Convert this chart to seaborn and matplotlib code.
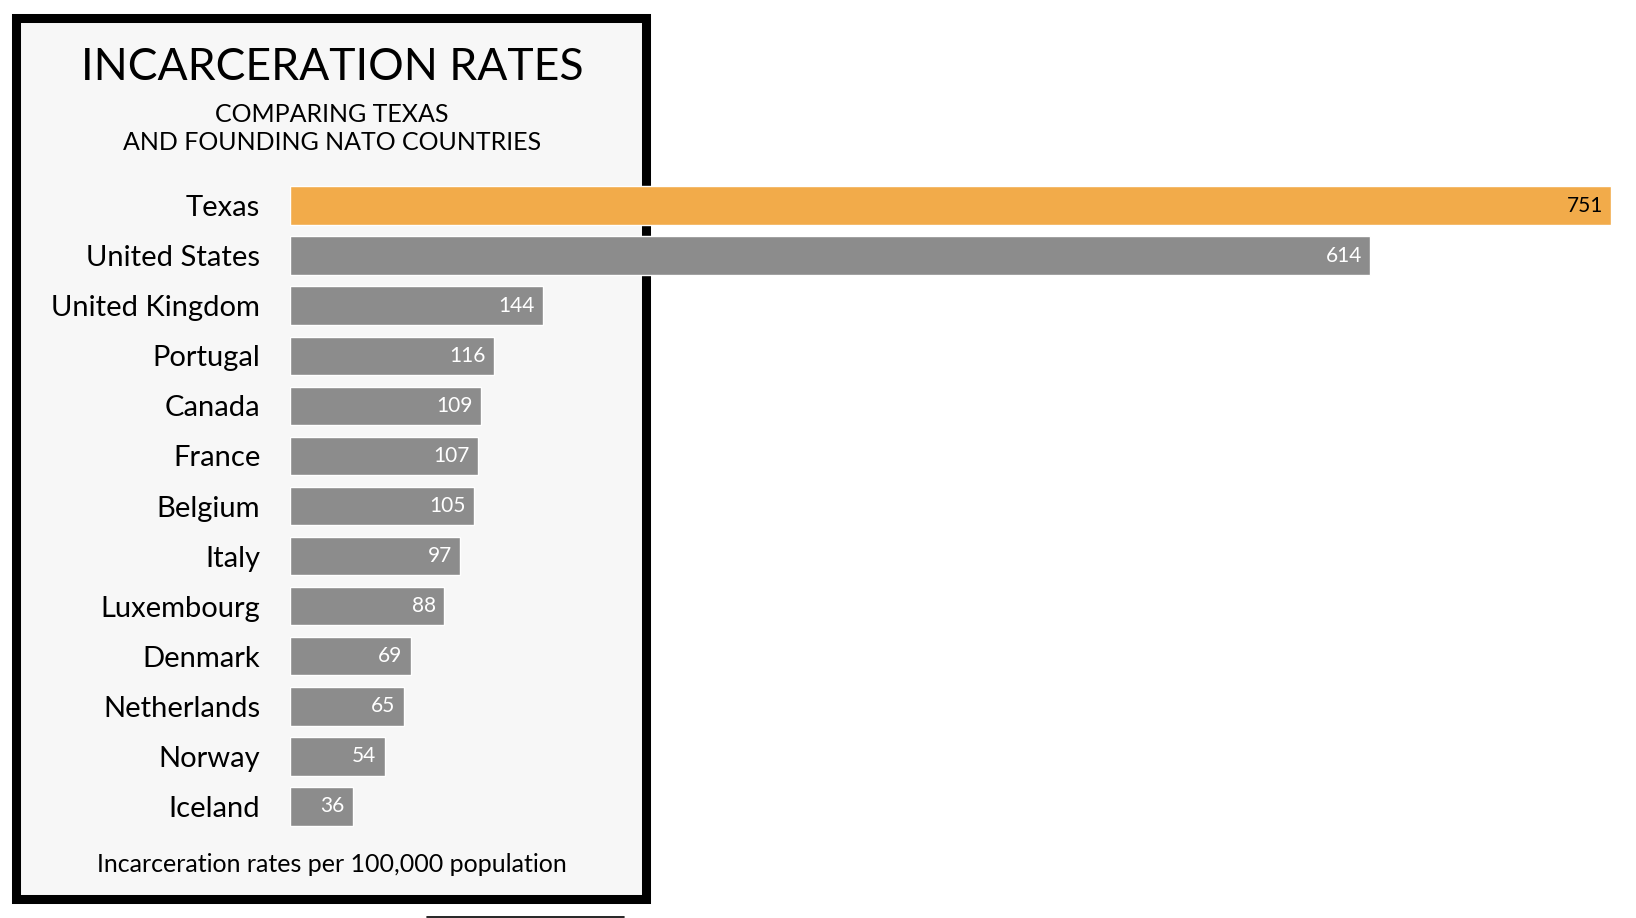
import numpy as np
import pandas as pd
import matplotlib
matplotlib.use("Agg")
import matplotlib.pyplot as plt
from matplotlib.patches import Rectangle
from matplotlib.lines import Line2D
import seaborn as sns

# data
countries = ["Texas", "United States", "United Kingdom", "Portugal", "Canada",
             "France", "Belgium", "Italy", "Luxembourg", "Denmark",
             "Netherlands", "Norway", "Iceland"]
rates = [751, 614, 144, 116, 109, 107, 105, 97, 88, 69, 65, 54, 36]
highlight = ["Texas"]

ORANGE = "#f2ab4a"
GREY = "#8c8c8c"
PANEL = "#f7f7f7"

df = pd.DataFrame({"country": countries, "rate": rates})
df["group"] = np.where(df["country"].isin(highlight), "hi", "lo")

sns.set_theme(style="white")
plt.rcParams["font.family"] = ["Lato", "DejaVu Sans"]

W, H = 1636, 918
fig = plt.figure(figsize=(W / 100, H / 100), dpi=100)
fig.patch.set_facecolor("white")

# black framed panel behind the chart
fx0, fy0, fx1, fy1 = 16.2, 18.3, 646.0, 899.0
fig.add_artist(Rectangle((fx0 / W, 1 - fy1 / H), (fx1 - fx0) / W, (fy1 - fy0) / H,
                         transform=fig.transFigure, facecolor=PANEL, edgecolor="black",
                         linewidth=6.5, zorder=-5))
fig.add_artist(Line2D([427 / W, 624 / W], [1 - 917 / H, 1 - 917 / H],
                      transform=fig.transFigure, color="black", linewidth=1.2))

ax_left = 289.5
ax_top = 180.6
ax_bot = 831.4
ax = fig.add_axes([ax_left / W, 1 - ax_bot / H, 1 - ax_left / W, (ax_bot - ax_top) / H])
ax.patch.set_alpha(0)

sns.barplot(data=df, y="country", x="rate", hue="group", orient="h",
            palette={"hi": ORANGE, "lo": GREY}, width=0.77, dodge=False,
            legend=False, saturation=1, ax=ax)

ax.set_xlim(0, 765)
ax.set_ylim(12.5, -0.5)
for s in ax.spines.values():
    s.set_visible(False)
ax.set_xticks([])
ax.set_xlabel("")
ax.set_ylabel("")
ax.tick_params(axis="y", length=0, pad=21, labelsize=21, labelcolor="black")

for p in ax.patches:
    w = p.get_width()
    if w <= 0:
        continue
    is_hi = np.isclose(p.get_facecolor()[:3], matplotlib.colors.to_rgb(ORANGE)).all()
    ax.annotate(f"{int(round(w))}", (w, p.get_y() + p.get_height() / 2),
                xytext=(-6, 0), textcoords="offset points", ha="right", va="center",
                fontsize=15, color="black" if is_hi else "white")

cx = 332 / W
fig.text(cx, 1 - 67 / H, "INCARCERATION RATES", ha="center", va="center",
         fontsize=32, color="black")
fig.text(cx, 1 - 114 / H, "COMPARING TEXAS", ha="center", va="center",
         fontsize=18, color="black")
fig.text(cx, 1 - 143 / H, "AND FOUNDING NATO COUNTRIES", ha="center", va="center",
         fontsize=18, color="black")
fig.text(cx, 1 - 865 / H, "Incarceration rates per 100,000 population", ha="center",
         va="center", fontsize=18, color="black")

fig.savefig("out.png", dpi=100, facecolor="white")
